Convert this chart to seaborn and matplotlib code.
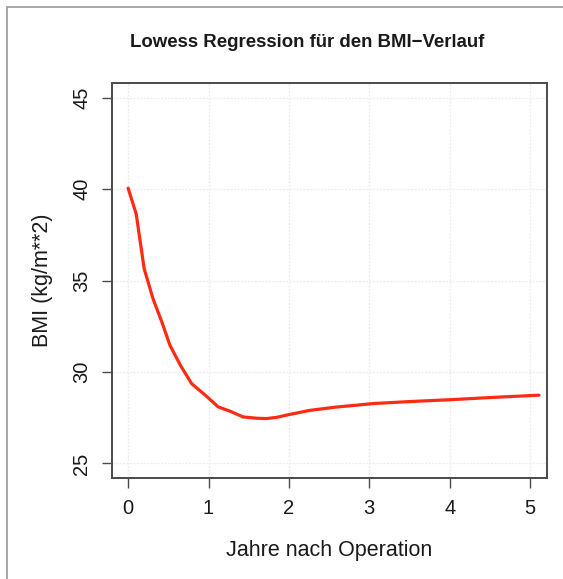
import numpy as np
import pandas as pd
import matplotlib
matplotlib.use("Agg")
import matplotlib.pyplot as plt
import seaborn as sns
from matplotlib.patches import Rectangle

# lowess curve
jahre = [0.0, 0.1, 0.2, 0.31, 0.42, 0.52, 0.65, 0.79, 0.96, 1.12, 1.27, 1.43,
         1.6, 1.72, 1.85, 1.97, 2.26, 2.59, 2.88, 3.04, 3.5, 4.04, 4.5, 5.11]
bmi = [40.05, 38.65, 35.64, 34.0, 32.73, 31.46, 30.37, 29.36, 28.73, 28.09, 27.85, 27.54,
       27.47, 27.45, 27.52, 27.64, 27.9, 28.08, 28.2, 28.27, 28.38, 28.49, 28.6, 28.73]
xticks = [0, 1, 2, 3, 4, 5]
yticks = [25, 30, 35, 40, 45]

df = pd.DataFrame({"Jahre": jahre, "BMI": bmi})

sns.set_style("white")
plt.rcParams['font.family'] = ['Liberation Sans', 'DejaVu Sans']

fig = plt.figure(figsize=(5.63, 5.79), dpi=100)
ax = fig.add_axes([0.199, 0.1744, 0.7726, 0.6822])

sns.lineplot(data=df, x="Jahre", y="BMI", ax=ax, color="#ff2a14", linewidth=2.3, sort=False)

ax.set_xlim(-0.2, 5.21)
ax.set_ylim(24.2, 45.8)
ax.set_xticks(xticks)
ax.set_yticks(yticks)
ax.set_xticklabels([str(t) for t in xticks], fontsize=14.5)
ax.set_yticklabels([str(t) for t in yticks], fontsize=14.5, rotation=90, va="center")

ax.grid(True, color="#ececec", linestyle=(0, (1.5, 1)), linewidth=1.0)
ax.set_axisbelow(True)

for s in ax.spines.values():
    s.set_color("#4a4a4a")
    s.set_linewidth(1.4)
ax.tick_params(axis="both", direction="out", length=7, width=1, color="#4a4a4a",
               pad=8, bottom=True, left=True, labelcolor="#1a1a1a")

ax.set_xlabel("Jahre nach Operation", fontsize=15.5, labelpad=16, color="#1a1a1a")
ax.set_ylabel("BMI (kg/m**2)", fontsize=15.5, labelpad=14, color="#1a1a1a")

fig.text(0.545, 0.927, "Lowess Regression für den BMI\u2212Verlauf", ha="center", va="center",
         fontsize=13.4, fontweight="bold", color="#1a1a1a")

# thin frame round the image
fig.patches.append(Rectangle((7 / 563, -0.05), 1.2, 1 - 7 / 579 + 0.05, transform=fig.transFigure,
                             fill=False, edgecolor="#9a9a9a", linewidth=1.2))

fig.savefig("out.png", dpi=100)
